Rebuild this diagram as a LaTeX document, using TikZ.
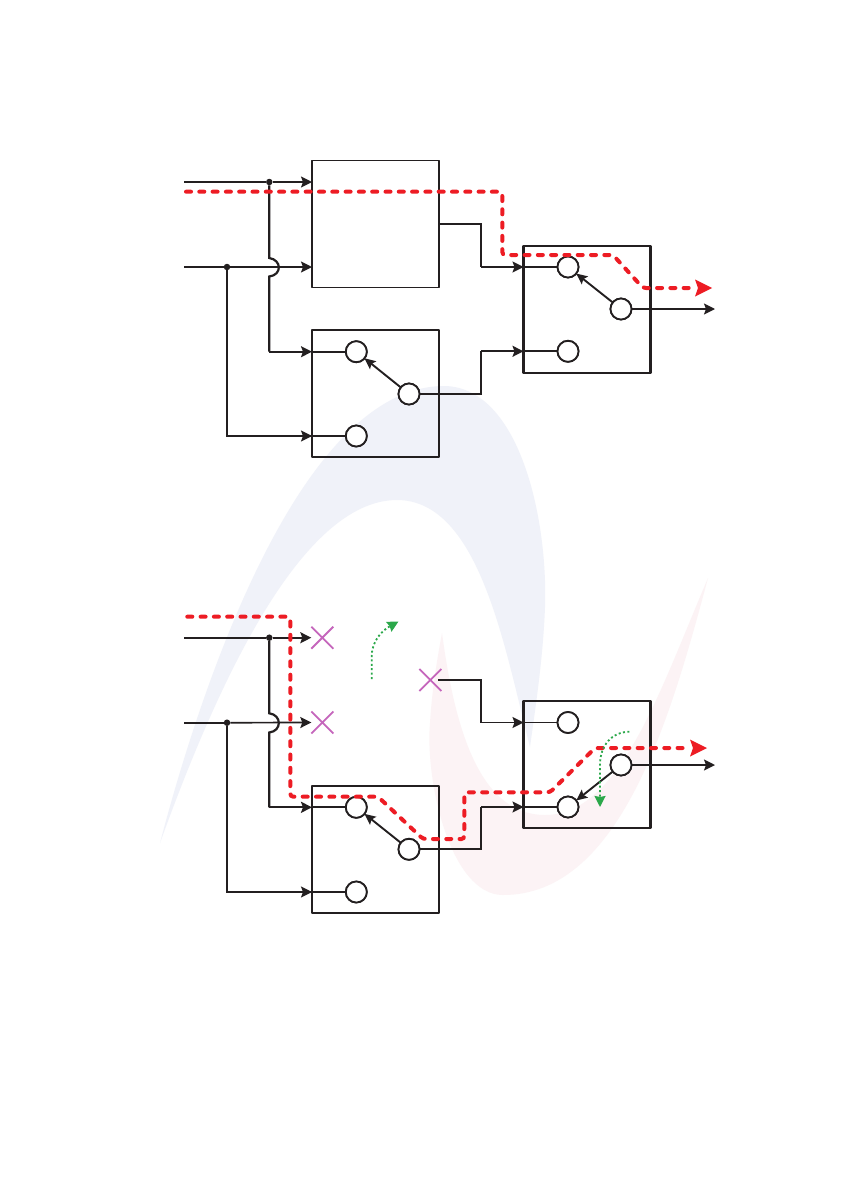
\documentclass[tikz,border=0pt]{standalone}
\usetikzlibrary{arrows.meta}
\definecolor{ink}{HTML}{231F20}
\definecolor{redp}{HTML}{ED1C24}
\definecolor{greenp}{HTML}{2BA84A}
\definecolor{purp}{HTML}{C566BC}
\definecolor{wblue}{HTML}{F0F2F9}
\definecolor{wpink}{HTML}{FCF3F5}
\tikzset{
 wire/.style={draw=ink,line width=1.7pt},
 wirearrow/.style={wire,-{Stealth[length=11pt,width=11pt,inset=2pt]}},
 boxthin/.style={draw=ink,line width=1.7pt,minimum size=127pt,inner sep=0pt,outer sep=0pt,line join=round},
 boxthick/.style={boxthin,line width=2.4pt},
 term/.style={circle,draw=ink,fill=white,line width=1.8pt,minimum size=21pt,inner sep=0pt,outer sep=0pt},
 dotj/.style={circle,fill=ink,minimum size=6.5pt,inner sep=0pt},
 bus/.style={draw=ink,line width=2.2pt},
 switcharm/.style={draw=ink,line width=1.9pt,-{Stealth[length=11pt,width=10pt,inset=2pt]}},
 redpath/.style={draw=redp,line width=4pt,rounded corners=3pt,dash pattern=on 5pt off 8.3pt,line cap=round},
 greenpath/.style={draw=greenp,line width=1.8pt,dash pattern=on 2pt off 2.4pt,-{Stealth[length=11pt,width=11pt,inset=1pt,fill=greenp]}},
 xmark/.style={draw=purp,line width=1.8pt},
 xanch/.style={minimum size=22pt,inner sep=0pt,outer sep=0pt},
}
\newcommand{\crossat}[1]{\draw[xmark] (#1.south west) -- (#1.north east) (#1.north west) -- (#1.south east);}
\begin{document}
\begin{tikzpicture}[x=1pt,y=-1pt]
\useasboundingbox[fill=white] (0,0) rectangle (843,1191);
% watermark
\fill[wblue] (160,843) .. controls (200,690) and (300,385) .. (445,386)
 .. controls (520,388) and (548,520) .. (545,607)
 .. controls (543,660) and (535,710) .. (530,747)
 .. controls (505,650) and (480,500) .. (397,500)
 .. controls (300,500) and (215,690) .. (160,843) -- cycle;
\fill[wpink] (708,578) .. controls (670,720) and (620,895) .. (503,895)
 .. controls (450,895) and (425,780) .. (430,723)
 .. controls (432,690) and (437,660) .. (442,633)
 .. controls (455,730) and (480,815) .. (545,815)
 .. controls (620,815) and (660,690) .. (708,578) -- cycle;
% ---------- upper diagram
\node[boxthin] (A) at (375.5,224) {};
\node[boxthick] (B) at (375.5,393.5) {};
\node[boxthick] (C) at (587,309.5) {};
\coordinate (in1) at (184,182);
\coordinate (in2) at (184,267);
\node[dotj] (j1) at (269.3,182) {};
\node[dotj] (j2) at (227,267) {};
\coordinate (a1) at (A.west |- in1);
\coordinate (a2) at (A.west |- in2);
\node[term] (b1) at (356.3,351.7) {};
\node[term] (b2) at (409,394) {};
\node[term] (b3) at (356.3,436) {};
\node[term] (c1) at (568,267) {};
\node[term] (c2) at (621,309) {};
\node[term] (c3) at (568,351.3) {};
\coordinate (bumpT) at (269.3,258);
\coordinate (bumpB) at (269.3,276.5);
\coordinate (bw1) at (B.west |- b1);
\coordinate (bw3) at (B.west |- b3);
\coordinate (cw1) at (C.west |- c1);
\coordinate (cw3) at (C.west |- c3);
\coordinate (cout) at (715,309);
\coordinate (aout) at (439,224);
\draw[wire] (in1) -- (j1);
\draw[wirearrow] (j1) -- (a1);
\draw[wire] (in2) -- (j2);
\draw[wirearrow] (j2) -- (a2);
\draw[bus] (j1) -- (bumpT) .. controls (282,260) and (282,275) .. (bumpB) -- (269.3,351.7);
\draw[wirearrow] (269.3,351.7) -- (bw1);
\draw[wire] (j2) |- (bw3);
\draw[wirearrow] (j2 |- b3) -- (bw3);
\draw[wire] (bw1) -- (b1);
\draw[wire] (bw3) -- (b3);
\draw[switcharm] (b2) -- (b1);
\draw[switcharm] (c2) -- (c1);
\draw[wire,line width=2.2pt] (aout) -- (481,224) -- (481,267);
\draw[wirearrow] (481,267) -- (cw1);
\draw[wire] (b2) -- (481,394) -- (481,351.3);
\draw[wirearrow] (481,351.3) -- (cw3);
\draw[wire] (cw1) -- (c1);
\draw[wire] (cw3) -- (c3);
\draw[wirearrow] (c2) -- (cout);
\node[term] at (b1) {};\node[term] at (b2) {};\node[term] at (b3) {};
\node[term] at (c1) {};\node[term] at (c2) {};\node[term] at (c3) {};
\draw[redpath] (186,191.7) -- (502.3,191.7) -- (502.3,255) -- (613,255) -- (643,288) -- (694,288);
\fill[redp] (712,288) -- (695,279.5) -- (698,288) -- (695,296.5) -- cycle;
% ---------- lower diagram
\node[boxthin] (D) at (375.5,849.2) {};
\node[boxthick] (E) at (587,764.7) {};
\coordinate (in3) at (184,637.7);
\coordinate (in4) at (184,722.7);
\node[dotj] (j3) at (269.3,637.7) {};
\node[dotj] (j4) at (227,722.7) {};
\node[xanch] (x1) at (322.3,637.7) {};
\node[xanch] (x2) at (322.3,722.5) {};
\node[xanch] (x3) at (430.3,680) {};
\node[term] (d1) at (356.3,807.3) {};
\node[term] (d2) at (409,849.3) {};
\node[term] (d3) at (356.3,892) {};
\node[term] (e1) at (568,722.5) {};
\node[term] (e2) at (621,765) {};
\node[term] (e3) at (568,807) {};
\coordinate (dw1) at (D.west |- d1);
\coordinate (dw3) at (D.west |- d3);
\coordinate (ew1) at (E.west |- e1);
\coordinate (ew3) at (E.west |- e3);
\coordinate (eout) at (715,765);
\draw[wire] (in3) -- (j3);
\draw[wirearrow] (j3) -- (x1.west);
\draw[wire] (in4) -- (j4);
\draw[wirearrow] (j4) -- (x2.west);
\crossat{x1}\crossat{x2}\crossat{x3}
\draw[bus] (j3) -- (269.3,713.3) .. controls (282,715) and (282,731) .. (269.3,732.5) -- (269.3,807.3);
\draw[wirearrow,line width=2.2pt] (269.3,807.3) -- (dw1);
\draw[wire] (j4) |- (dw3);
\draw[wirearrow] (j4 |- d3) -- (dw3);
\draw[wire] (dw1) -- (d1);
\draw[wire,line width=2.4pt] (dw3) -- (d3);
\draw[switcharm] (d2) -- (d1);
\draw[switcharm] (e2) -- (e3);
\draw[wire] (438.3,680) -- (481,680) -- (481,722.5);
\draw[wirearrow] (481,722.5) -- (ew1);
\draw[wire] (d2) -- (481,849.3) -- (481,807);
\draw[wirearrow] (481,807) -- (ew3);
\draw[wire] (ew1) -- (e1);
\draw[wire] (ew3) -- (e3);
\draw[wirearrow] (e2) -- (eout);
\node[term] at (d1) {};\node[term] at (d2) {};\node[term] at (d3) {};
\node[term] at (e1) {};\node[term] at (e2) {};\node[term] at (e3) {};
\draw[redpath] (187.3,616.7) -- (290.3,616.7) -- (290.3,796.7) -- (378,796.7) -- (423,839) -- (464.3,839) -- (464.3,792.3) -- (550,792.3) -- (595,748) -- (689,748);
\fill[redp] (707,748) -- (690,739.5) -- (693,748) -- (690,756.5) -- cycle;
\draw[greenpath] (371.7,679) -- (371.7,656) .. controls (372,640) and (383,630) .. (398.5,621.5);
\draw[greenpath] (629.3,731.7) .. controls (612,732) and (600,745) .. (600,765) -- (600,807);
\end{tikzpicture}
\end{document}
